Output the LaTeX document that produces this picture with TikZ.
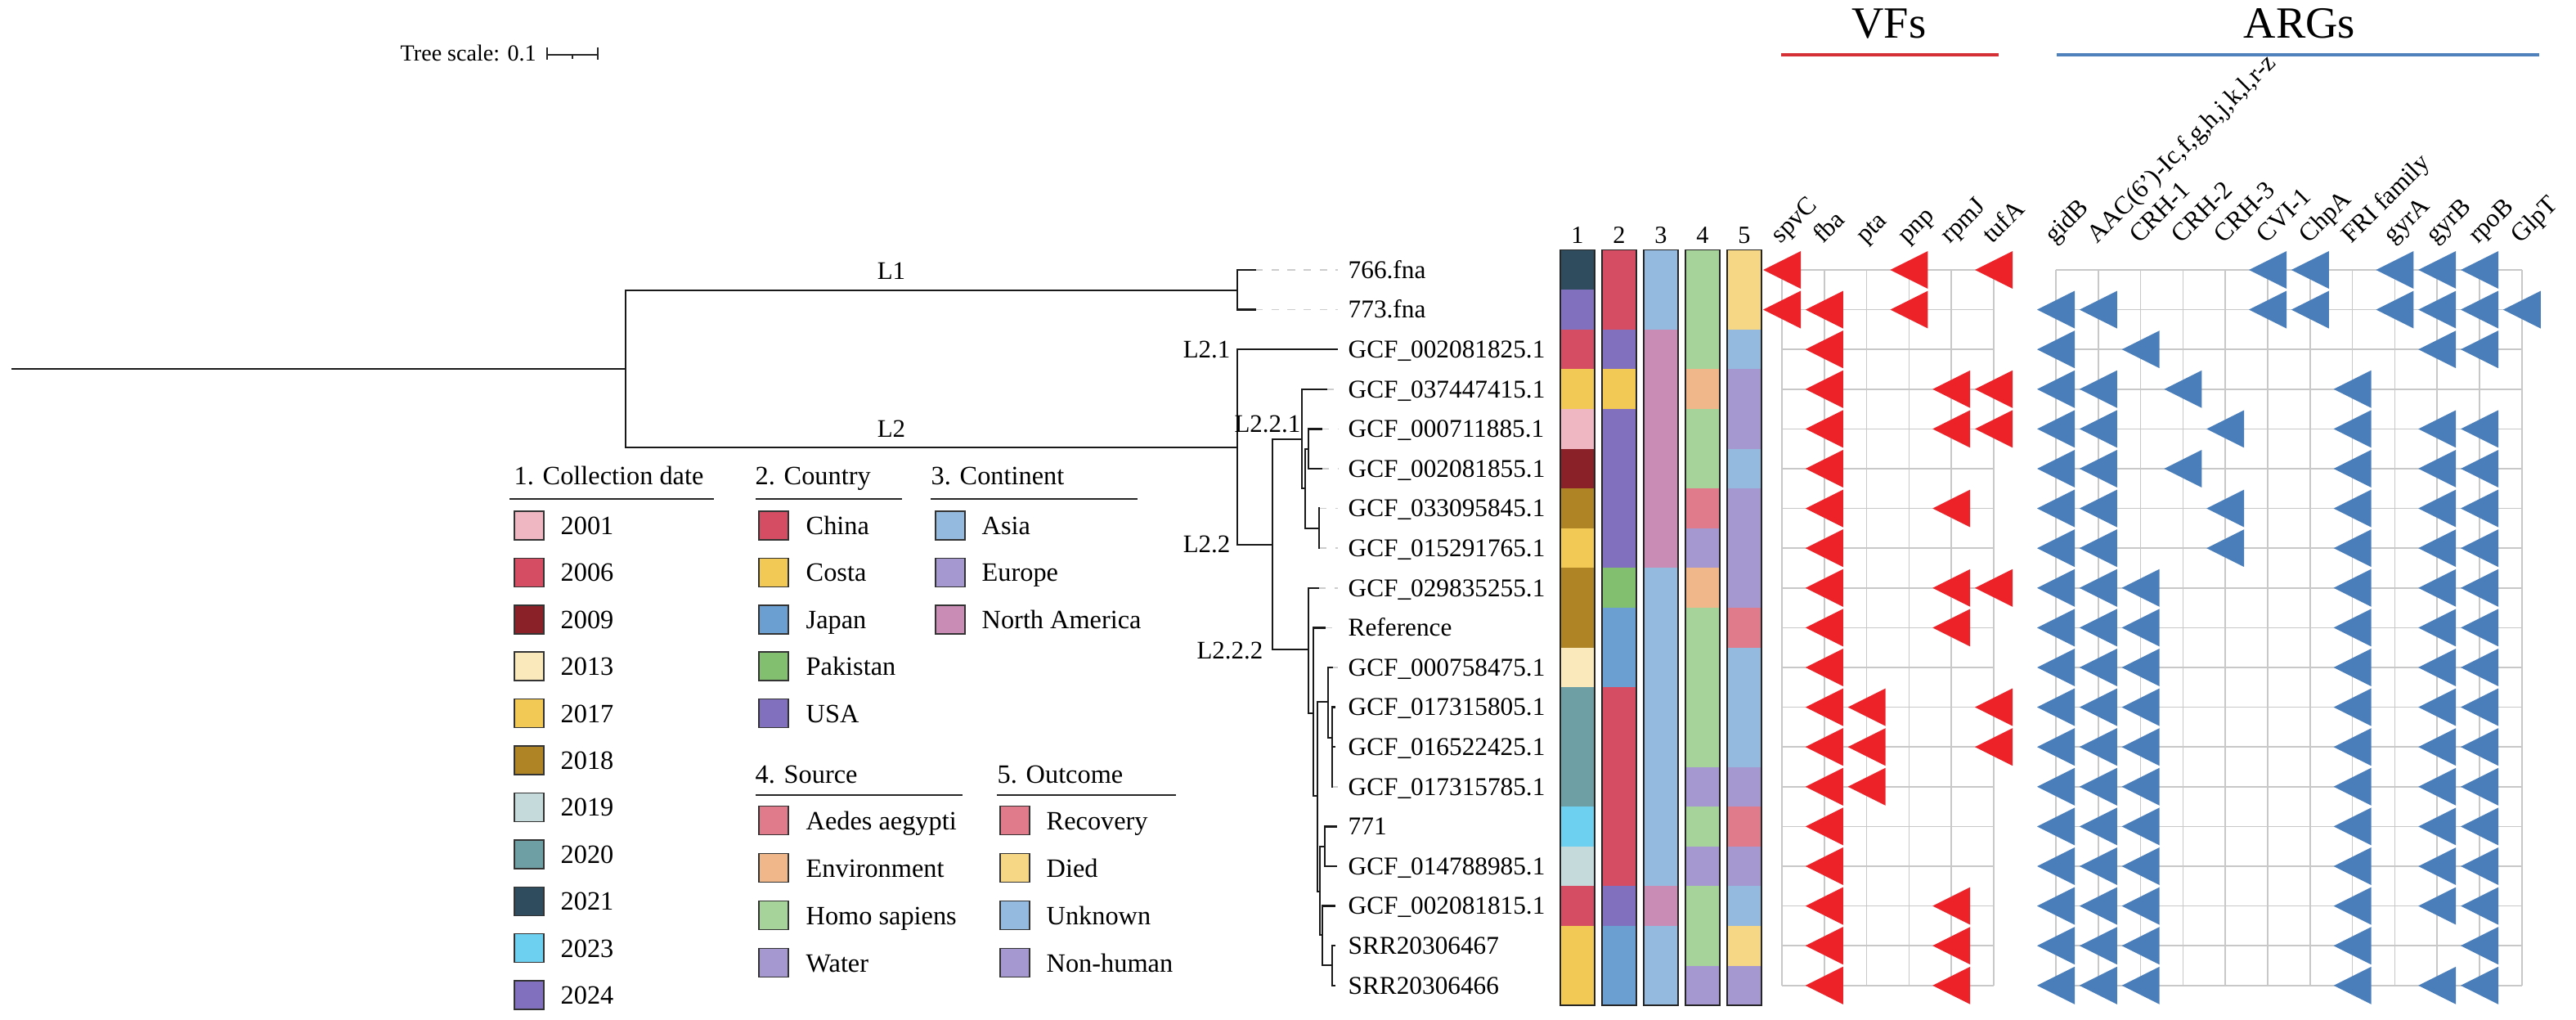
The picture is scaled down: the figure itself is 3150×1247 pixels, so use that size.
\documentclass[tikz,border=0pt]{standalone}
\usepackage{fontspec}
\setmainfont{Liberation Serif}
\definecolor{vfred}{RGB}{236,34,40}
\definecolor{argblue}{RGB}{74,126,187}
\definecolor{gridgray}{RGB}{200,200,200}
\definecolor{hdred}{RGB}{214,48,55}
\definecolor{hdblue}{RGB}{79,129,189}
\definecolor{c2001}{HTML}{EFB7C2}
\definecolor{c2006}{HTML}{D44D63}
\definecolor{c2009}{HTML}{8A2128}
\definecolor{c2013}{HTML}{FAE9BA}
\definecolor{c2017}{HTML}{F2C955}
\definecolor{c2018}{HTML}{AE8424}
\definecolor{c2019}{HTML}{C5DBDB}
\definecolor{c2020}{HTML}{6E9FA5}
\definecolor{c2021}{HTML}{2E4C5E}
\definecolor{c2023}{HTML}{6ED0F0}
\definecolor{c2024}{HTML}{8070BE}
\definecolor{cChina}{HTML}{D44D63}
\definecolor{cCosta}{HTML}{F2C955}
\definecolor{cJapan}{HTML}{6B9ED1}
\definecolor{cPak}{HTML}{82C070}
\definecolor{cUSA}{HTML}{8070BE}
\definecolor{cAsia}{HTML}{94BAE0}
\definecolor{cEur}{HTML}{A597D0}
\definecolor{cNA}{HTML}{C98DB5}
\definecolor{cAed}{HTML}{E07B8C}
\definecolor{cEnv}{HTML}{F0B78B}
\definecolor{cHomo}{HTML}{A5D399}
\definecolor{cWat}{HTML}{A597D0}
\definecolor{cRec}{HTML}{E07B8C}
\definecolor{cDied}{HTML}{F5D785}
\definecolor{cUnk}{HTML}{94BAE0}
\definecolor{cNon}{HTML}{A597D0}
\begin{document}
\begin{tikzpicture}[x=0.1mm,y=-0.1mm,
  br/.style={line width=0.65pt, black!90, line cap=rect},
  ext/.style={draw=black!20, line width=0.5pt, dash pattern=on 2.6pt off 3pt},
  leaf/.style={anchor=base west, inner sep=0, font=\fontsize{8.9}{10}\selectfont},
  tlab/.style={inner sep=0, font=\fontsize{8.8}{10}\selectfont},
  gridline/.style={draw=gridgray, line width=0.45pt},
  collab/.style={anchor=base west, rotate=45, inner sep=0, font=\fontsize{8.9}{11}\selectfont},
  sw/.style={draw=black!80, line width=0.4pt},
  legtext/.style={anchor=base west, inner sep=0, font=\fontsize{9.2}{11}\selectfont},
  hdline/.style={line width=0.85pt, black!85},
  bigh/.style={anchor=base, inner sep=0, font=\fontsize{15.5}{18}\selectfont},
]
\useasboundingbox (0,0) rectangle (3150,1247);

% ---------- tree scale ----------
\node[anchor=base west, inner sep=0, font=\fontsize{8}{10}\selectfont] (ts) at (489,75) {Tree scale: 0.1};
\coordinate (sb1) at (669,67);
\coordinate (sb2) at (731,67);
\coordinate (sbm) at (700,67);
\draw[line width=0.6pt, black!85] (sb1) -- (sb2);
\draw[line width=0.6pt, black!85] ([yshift=0.9mm]sb1) -- ([yshift=-0.6mm]sb1);
\draw[line width=0.6pt, black!85] ([yshift=0.9mm]sb2) -- ([yshift=-0.6mm]sb2);
\draw[line width=0.6pt, black!85] (sbm) -- ([yshift=-0.5mm]sbm);

% ---------- tree ----------
\coordinate (R0) at (15,451);
\coordinate (R) at (765,451);
\coordinate (L1n) at (1513,355);
\coordinate (L2n) at (1513,547);
\coordinate (L22n) at (1556,666);
\coordinate (An) at (1592,537);
\coordinate (Bn) at (1596,597);
\coordinate (Cn) at (1600,549);
\coordinate (Dn) at (1613,646);
\coordinate (En) at (1600,794);
\coordinate (Fn) at (1606,872);
\coordinate (In) at (1611,973);
\coordinate (Gn) at (1624,858);
\coordinate (Hn) at (1629,902);
\coordinate (Nn) at (1614,1090);
\coordinate (Jn) at (1620,1035);
\coordinate (Ln) at (1617,1143);
\coordinate (Mn) at (1629,1180);
\foreach \i/\x in {0/1535,1/1535,2/1635,3/1622,4/1616,5/1616,6/1613,7/1613,8/1612,9/1620,10/1629,11/1632,12/1632,13/1629,14/1634,15/1634,16/1632,17/1632,18/1632}{
  \coordinate (e\i) at (\x,{330+48.6*\i});
  \coordinate (d\i) at (1636,{330+48.6*\i});
}
\foreach \i in {0,1,3,4,5,6,7,8,9,10,13}{ \draw[ext] (e\i) -- (d\i); }

\draw[br] (R0) -- (R);
\draw[br] (R) |- (L1n);
\draw[br] (R) |- (L2n);
\draw[br] (L1n) |- (e0);
\draw[br] (L1n) |- (e1);
\draw[br] (L2n) |- (e2);
\draw[br] (L2n) |- (L22n);
\draw[br] (L22n) |- (An);
\draw[br] (L22n) |- (En);
\draw[br] (An) |- (e3);
\draw[br] (An) |- (Bn);
\draw[br] (Bn) |- (Cn);
\draw[br] (Bn) |- (Dn);
\draw[br] (Cn) |- (e4);
\draw[br] (Cn) |- (e5);
\draw[br] (Dn) |- (e6);
\draw[br] (Dn) |- (e7);
\draw[br] (En) |- (e8);
\draw[br] (En) |- (Fn);
\draw[br] (Fn) |- (e9);
\draw[br] (Fn) |- (In);
\draw[br] (In) |- (Gn);
\draw[br] (In) |- (Nn);
\draw[br] (Gn) |- (e10);
\draw[br] (Gn) |- (Hn);
\draw[br] (Hn) |- (e11);
\draw[br] (Hn) |- (e12);
\draw[br] (Hn) |- (e13);
\draw[br] (Nn) |- (Jn);
\draw[br] (Nn) |- (Ln);
\draw[br] (Jn) |- (e14);
\draw[br] (Jn) |- (e15);
\draw[br] (Ln) |- (e16);
\draw[br] (Ln) |- (Mn);
\draw[br] (Mn) |- (e17);
\draw[br] (Mn) |- (e18);

\node[tlab,anchor=base] (lL1) at (1090,341.5) {L1};
\node[tlab,anchor=base] (lL2) at (1090,534.5) {L2};
\node[tlab,anchor=base east] (lL21) at (1505,437.5) {L2.1};
\node[tlab,anchor=base east] (lL22) at (1505,675.5) {L2.2};
\node[tlab,anchor=base east] (lL221) at (1591,529) {L2.2.1};
\node[tlab,anchor=base east] (lL222) at (1545,805.5) {L2.2.2};

% ---------- leaf labels ----------
\foreach \t [count=\i from 0] in {766.fna,773.fna,GCF\_002081825.1,GCF\_037447415.1,GCF\_000711885.1,GCF\_002081855.1,GCF\_033095845.1,GCF\_015291765.1,GCF\_029835255.1,Reference,GCF\_000758475.1,GCF\_017315805.1,GCF\_016522425.1,GCF\_017315785.1,771,GCF\_014788985.1,GCF\_002081815.1,SRR20306467,SRR20306466}{
  \node[leaf] (leaf\i) at (1648,{340.3+48.6*\i}) {\t};
}

% ---------- colour strips ----------
\foreach \s/\cols in {
 0/{c2021,c2024,c2006,c2017,c2001,c2009,c2018,c2017,c2018,c2018,c2013,c2020,c2020,c2020,c2023,c2019,c2006,c2017,c2017},
 1/{cChina,cChina,cUSA,cCosta,cUSA,cUSA,cUSA,cUSA,cPak,cJapan,cJapan,cChina,cChina,cChina,cChina,cChina,cUSA,cJapan,cJapan},
 2/{cAsia,cAsia,cNA,cNA,cNA,cNA,cNA,cNA,cAsia,cAsia,cAsia,cAsia,cAsia,cAsia,cAsia,cAsia,cNA,cAsia,cAsia},
 3/{cHomo,cHomo,cHomo,cEnv,cHomo,cHomo,cAed,cWat,cEnv,cHomo,cHomo,cHomo,cHomo,cWat,cHomo,cWat,cHomo,cHomo,cWat},
 4/{cDied,cDied,cUnk,cNon,cNon,cUnk,cNon,cNon,cNon,cRec,cUnk,cUnk,cUnk,cNon,cRec,cNon,cUnk,cDied,cNon}}{
  \foreach \cc [count=\i from 0] in \cols {
    \fill[\cc] ({1908+51*\s},{305.7+48.6*\i}) rectangle ({1950+51*\s},{305.7+48.6*(\i+1)});
  }
  \draw[line width=0.4pt, black!85] ({1908+51*\s},305.7) rectangle ({1950+51*\s},1229.1);
  \pgfmathtruncatemacro{\num}{\s+1}
  \node[anchor=base, inner sep=0, font=\fontsize{8.6}{10}\selectfont] (snum\s) at ({1929+51*\s},298) {\num};
}

% ---------- headers ----------
\node[bigh] (vfh) at (2310,47) {VFs};
\node[bigh] (argh) at (2812,47) {ARGs};
\coordinate (vfa) at (2178,67);
\coordinate (vfb) at (2444,67);
\coordinate (aga) at (2515,67);
\coordinate (agb) at (3105,67);
\draw[hdred, line width=0.9pt] (vfa) -- (vfb);
\draw[hdblue, line width=0.9pt] (aga) -- (agb);

% ---------- grids ----------
\foreach \c in {0,...,5}{ \draw[gridline] ({2179+51.8*\c},330) -- ({2179+51.8*\c},1204.8); }
\foreach \i in {0,...,18}{ \draw[gridline] (2179,{330+48.6*\i}) -- (2438,{330+48.6*\i}); }
\foreach \c in {0,...,11}{ \draw[gridline] ({2514+51.8*\c},330) -- ({2514+51.8*\c},1204.8); }
\foreach \i in {0,...,18}{ \draw[gridline] (2514,{330+48.6*\i}) -- (3084,{330+48.6*\i}); }

% ---------- column labels ----------
\foreach \t [count=\c from 0] in {spvC,fba,pta,pnp,rpmJ,tufA}{
  \node[collab] (vfl\c) at ({2179+51.8*\c-2},299) {\t};
}
\foreach \t [count=\c from 0] in {gidB,{AAC(6’)-Ic,f,g,h,j,k,l,r-z},CRH-1,CRH-2,CRH-3,CVI-1,ChpA,FRI family,gyrA,gyrB,rpoB,GlpT}{
  \node[collab] (argl\c) at ({2514+51.8*\c-2},299) {\t};
}

% ---------- VF triangles ----------
\foreach \i/\cs in {0/{0,3,5},1/{0,1,3},2/{1},3/{1,4,5},4/{1,4,5},5/{1},6/{1,4},7/{1},8/{1,4,5},9/{1,4},10/{1},11/{1,2,5},12/{1,2,5},13/{1,2},14/{1},15/{1},16/{1,4},17/{1,4},18/{1,4}}{
  \foreach \c in \cs {
    \fill[vfred] ({2179+51.8*\c+23},{330+48.6*\i-23}) -- ++(0,46) -- ++(-46,-23) -- cycle;
  }
}
% ---------- ARG triangles ----------
\foreach \i/\cs in {0/{5,6,8,9,10},1/{0,1,5,6,8,9,10,11},2/{0,2,9,10},3/{0,1,3,7},4/{0,1,4,7,9,10},5/{0,1,3,7,9,10},6/{0,1,4,7,9,10},7/{0,1,4,7,9,10},8/{0,1,2,7,9,10},9/{0,1,2,7,9,10},10/{0,1,2,7,9,10},11/{0,1,2,7,9,10},12/{0,1,2,7,9,10},13/{0,1,2,7,9,10},14/{0,1,2,7,9,10},15/{0,1,2,7,9,10},16/{0,1,2,7,9,10},17/{0,1,2,7,10},18/{0,1,2,7,9,10}}{
  \foreach \c in \cs {
    \fill[argblue] ({2514+51.8*\c+23},{330+48.6*\i-23}) -- ++(0,46) -- ++(-46,-23) -- cycle;
  }
}

% ---------- legend ----------
\node[legtext] (h1) at (628,593) {1. Collection date};
\node[legtext] (h2) at (923,593) {2. Country};
\node[legtext] (h3) at (1138,593) {3. Continent};
\node[legtext] (h4) at (923,957) {4. Source};
\node[legtext] (h5) at (1219,957) {5. Outcome};
\draw[hdline] (623,610) -- (873,610);
\draw[hdline] (924,610) -- (1103,610);
\draw[hdline] (1138,610) -- (1391,610);
\draw[hdline] (924,972) -- (1177,972);
\draw[hdline] (1219,972) -- (1438,972);

\foreach \t/\cc [count=\k from 0] in {2001/c2001,2006/c2006,2009/c2009,2013/c2013,2017/c2017,2018/c2018,2019/c2019,2020/c2020,2021/c2021,2023/c2023,2024/c2024}{
  \filldraw[sw, fill=\cc] (629,{625+57.4*\k}) rectangle (665,{660+57.4*\k});
  \node[legtext] (la\k) at (685,{653.5+57.4*\k}) {\t};
}
\foreach \t/\cc [count=\k from 0] in {China/cChina,Costa/cCosta,Japan/cJapan,Pakistan/cPak,USA/cUSA}{
  \filldraw[sw, fill=\cc] (928,{625+57.4*\k}) rectangle (964,{660+57.4*\k});
  \node[legtext] (lb\k) at (985,{653.5+57.4*\k}) {\t};
}
\foreach \t/\cc [count=\k from 0] in {Asia/cAsia,Europe/cEur,North America/cNA}{
  \filldraw[sw, fill=\cc] (1144,{625+57.4*\k}) rectangle (1180,{660+57.4*\k});
  \node[legtext] (lc\k) at (1200,{653.5+57.4*\k}) {\t};
}
\foreach \t/\cc [count=\k from 0] in {Aedes aegypti/cAed,Environment/cEnv,Homo sapiens/cHomo,Water/cWat}{
  \filldraw[sw, fill=\cc] (928,{985.5+58*\k}) rectangle (964,{1020.5+58*\k});
  \node[legtext] (ld\k) at (985,{1014+58*\k}) {\t};
}
\foreach \t/\cc [count=\k from 0] in {Recovery/cRec,Died/cDied,Unknown/cUnk,Non-human/cNon}{
  \filldraw[sw, fill=\cc] (1223,{985.5+58*\k}) rectangle (1259,{1020.5+58*\k});
  \node[legtext] (le\k) at (1279,{1014+58*\k}) {\t};
}
\end{tikzpicture}
\end{document}
